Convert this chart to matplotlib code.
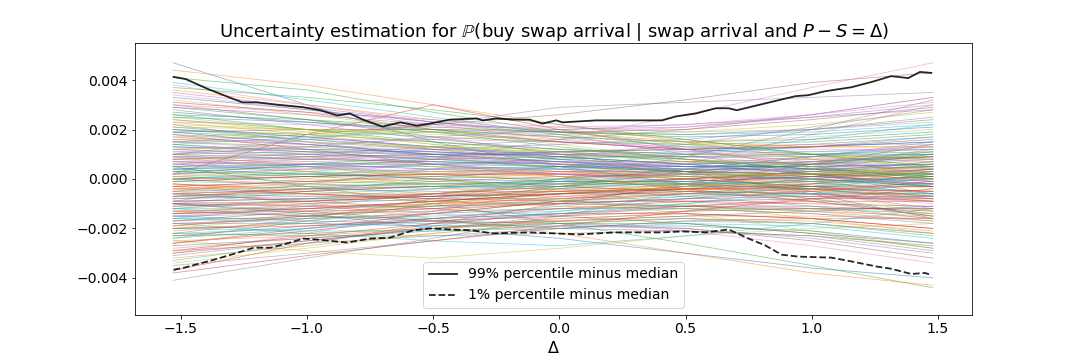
import numpy as np
import matplotlib
matplotlib.use("Agg")
import matplotlib.pyplot as plt

knots = [-1.53, -1.0, -0.5, 0.0, 0.5, 1.0, 1.48]
samples = [
    [4.7, 3.0, 1.5, 0.5, -0.2, -0.8, -1.5],
    [4.4, 3.8, 3.0, 2.2, 1.5, 0.8, 0.2],
    [4.1, 3.6, 2.7, 1.9, 1.4, 1.0, 0.8],
    [0.2, 1.8, 3.0, 2.0, 1.2, 0.5, 0.0],
    [1.0, 1.6, 2.2, 2.9, 3.1, 3.3, 3.5],
    [1.5, 1.8, 2.2, 2.6, 3.2, 3.9, 4.3],
    [-0.5, 0.0, 0.8, 1.6, 2.6, 3.7, 4.7],
    [-4.1, -3.2, -2.4, -1.5, -0.5, 0.5, 1.2],
    [-2.5, -2.9, -3.2, -2.8, -2.3, -2.0, -1.8],
    [-1.8, -2.2, -2.5, -2.7, -2.3, -1.8, -1.2],
    [-1.0, -1.4, -2.0, -2.4, -3.0, -3.6, -4.0],
    [-0.5, -1.0, -1.6, -2.2, -3.0, -3.8, -4.3],
    [0.5, -0.3, -1.0, -1.8, -2.6, -3.5, -4.4],
    [-3.7, -2.6, -1.8, -1.0, -0.2, 0.6, 1.4],
    [3.5, 2.9, 2.3, 1.8, 1.0, 0.2, -0.6],
    [3.0, 2.4, 1.7, 1.0, 0.3, -0.6, -1.6],
    [-3.0, -2.2, -1.3, -0.4, 0.6, 1.8, 3.0],
    [-2.2, -1.6, -0.8, 0.0, 0.9, 2.0, 3.2],
    [2.5, 2.0, 1.4, 0.9, 0.3, -0.5, -1.3],
    [2.0, 1.6, 1.3, 1.0, 0.8, 0.6, 0.5],
    [1.2, 1.0, 0.8, 0.6, 0.5, 0.6, 0.8],
    [-1.2, -0.9, -0.6, -0.3, 0.0, 0.2, 0.4],
    [0.3, 0.2, 0.1, 0.0, -0.2, -0.4, -0.7],
    [1.8, 1.2, 0.6, 0.1, -0.4, -0.9, -1.5],
    [-1.6, -1.1, -0.6, -0.1, 0.4, 0.9, 1.5],
    [0.8, 0.9, 1.0, 1.1, 1.2, 1.4, 1.7],
    [-0.8, -0.7, -0.6, -0.7, -0.9, -1.2, -1.6],
    [2.2, 1.5, 0.9, 0.4, 0.0, -0.3, -0.5],
    [-2.0, -1.5, -1.0, -0.6, -0.3, -0.1, 0.1],
    [0.0, 0.3, 0.6, 0.8, 1.0, 1.3, 1.7],
    [0.6, 0.3, 0.0, -0.3, -0.5, -0.6, -0.6],
    [-0.3, -0.1, 0.2, 0.5, 0.7, 0.8, 0.8],
    [1.5, 1.3, 1.0, 0.7, 0.3, 0.0, -0.3],
    [-1.4, -1.3, -1.2, -1.0, -0.8, -0.7, -0.7],
    [2.8, 2.2, 1.6, 1.2, 0.9, 0.8, 0.9],
    [-2.6, -2.0, -1.4, -0.9, -0.6, -0.4, -0.3],
    [0.9, 0.6, 0.4, 0.3, 0.4, 0.7, 1.1],
    [-0.6, -0.4, -0.3, -0.3, -0.5, -0.9, -1.4],
    [1.0, 0.5, 0.0, -0.5, -1.0, -1.6, -2.2],
    [-1.0, -0.5, 0.0, 0.5, 1.0, 1.6, 2.2],
    [0.4, 0.6, 0.7, 0.6, 0.3, -0.1, -0.6],
    [-0.2, -0.5, -0.7, -0.6, -0.3, 0.1, 0.6],
    [2.4, 2.0, 1.7, 1.5, 1.4, 1.5, 1.8],
    [-2.3, -1.9, -1.6, -1.4, -1.4, -1.6, -2.0],
    [1.6, 1.4, 1.1, 0.8, 0.5, 0.3, 0.2],
    [-1.7, -1.3, -0.9, -0.6, -0.4, -0.4, -0.5],
    [0.1, 0.4, 0.8, 1.1, 1.3, 1.4, 1.4],
    [0.0, -0.3, -0.6, -0.9, -1.1, -1.2, -1.2],
    [3.2, 2.6, 2.0, 1.4, 0.8, 0.2, -0.4],
    [-3.3, -2.6, -1.9, -1.3, -0.8, -0.3, 0.2],
    [1.3, 1.1, 1.0, 1.0, 1.1, 1.3, 1.5],
    [-1.3, -1.1, -1.0, -1.0, -1.1, -1.3, -1.5],
    [0.7, 0.5, 0.2, -0.1, -0.3, -0.3, -0.2],
    [-0.7, -0.4, -0.1, 0.1, 0.2, 0.1, -0.1],
    [2.0, 1.7, 1.3, 0.8, 0.2, -0.5, -1.2],
    [-2.0, -1.8, -1.4, -0.9, -0.3, 0.4, 1.0],
    [1.1, 1.2, 1.2, 1.1, 0.9, 0.6, 0.3],
    [-1.1, -1.0, -0.8, -0.5, -0.2, 0.2, 0.7],
    [0.2, 0.0, -0.2, -0.3, -0.3, -0.2, 0.0],
    [-0.1, 0.1, 0.3, 0.4, 0.4, 0.3, 0.1],
    [2.7, 2.3, 1.9, 1.5, 1.2, 1.0, 1.0],
    [-2.8, -2.4, -2.0, -1.7, -1.5, -1.5, -1.6],
    [1.9, 1.6, 1.2, 0.8, 0.6, 0.7, 1.0],
    [-1.9, -1.5, -1.1, -0.7, -0.5, -0.6, -0.9],
    [0.5, 0.8, 1.0, 1.0, 0.8, 0.4, -0.1],
    [-0.4, -0.6, -0.8, -0.8, -0.6, -0.2, 0.3],
    [3.8, 3.0, 2.3, 1.7, 1.2, 0.9, 0.7],
    [-0.9, -0.2, 0.4, 0.9, 1.4, 2.1, 2.8],
    [0.9, 0.3, -0.3, -0.8, -1.4, -2.1, -2.8],
    [1.4, 1.7, 1.9, 1.9, 1.8, 1.9, 2.2],
    [-1.5, -1.7, -1.8, -1.7, -1.5, -1.3, -1.1],
    [2.3, 1.8, 1.2, 0.6, 0.1, -0.2, -0.3],
    [-2.4, -1.7, -1.0, -0.3, 0.3, 0.7, 0.9],
    [0.0, 0.1, 0.2, 0.2, 0.1, 0.0, -0.2],
    [0.6, 0.9, 1.2, 1.4, 1.6, 2.0, 2.5],
    [-0.6, -0.9, -1.2, -1.5, -1.8, -2.2, -2.6],
    [3.0, 2.7, 2.4, 2.1, 1.9, 2.0, 2.3],
    [-3.5, -3.0, -2.5, -2.0, -1.7, -1.8, -2.3],
    [1.7, 1.9, 2.0, 2.0, 1.6, 1.0, 0.4],
    [-1.2, -1.5, -1.6, -1.4, -1.0, -0.4, 0.2],
    [0.4, 0.5, 0.5, 0.4, 0.2, 0.0, -0.3],
    [-0.4, -0.3, -0.2, -0.1, 0.0, 0.2, 0.5],
    [1.0, 0.8, 0.7, 0.5, 0.3, 0.2, 0.2],
    [-1.0, -0.9, -0.7, -0.5, -0.4, -0.4, -0.5],
    [0.2, 0.4, 0.6, 0.7, 0.7, 0.6, 0.4],
    [-0.2, -0.4, -0.5, -0.5, -0.4, -0.2, 0.1],
    [1.4, 1.0, 0.6, 0.2, -0.2, -0.6, -1.0],
    [-1.4, -1.0, -0.6, -0.2, 0.2, 0.6, 1.1],
    [0.8, 0.7, 0.5, 0.3, 0.0, -0.4, -0.9],
    [-0.8, -0.6, -0.4, -0.1, 0.2, 0.6, 1.0],
    [2.1, 1.7, 1.3, 0.9, 0.6, 0.4, 0.3],
    [-2.1, -1.7, -1.3, -0.9, -0.6, -0.5, -0.6],
    [0.3, 0.5, 0.8, 0.9, 0.9, 0.9, 1.0],
    [-0.3, -0.6, -0.8, -0.9, -0.9, -1.0, -1.1],
    [1.7, 1.4, 1.0, 0.6, 0.3, 0.1, -0.1],
    [-1.7, -1.5, -1.2, -0.8, -0.4, 0.0, 0.3],
    [0.6, 0.7, 0.8, 0.7, 0.5, 0.3, 0.2],
    [-0.6, -0.7, -0.7, -0.6, -0.3, 0.0, 0.4],
    [1.2, 1.3, 1.3, 1.2, 1.0, 0.9, 0.9],
    [-1.2, -1.2, -1.1, -0.9, -0.7, -0.6, -0.6],
    [0.0, 0.2, 0.4, 0.5, 0.5, 0.5, 0.6],
    [0.0, -0.2, -0.4, -0.4, -0.4, -0.5, -0.7],
    [2.6, 2.0, 1.5, 1.1, 0.7, 0.4, 0.2],
    [-2.6, -2.1, -1.6, -1.2, -0.9, -0.8, -0.8],
    [0.9, 1.0, 0.9, 0.7, 0.4, 0.1, -0.2],
    [-0.9, -0.8, -0.6, -0.3, 0.0, 0.3, 0.5],
    [1.5, 1.2, 0.9, 0.6, 0.4, 0.4, 0.6],
    [-1.5, -1.2, -0.9, -0.6, -0.5, -0.6, -0.8],
    [0.5, 0.3, 0.2, 0.1, 0.1, 0.2, 0.5],
    [-0.5, -0.3, -0.2, -0.1, -0.1, -0.3, -0.6],
    [1.9, 1.4, 1.0, 0.7, 0.5, 0.5, 0.6],
    [-1.9, -1.4, -1.0, -0.6, -0.2, 0.1, 0.4],
    [0.1, -0.1, -0.2, -0.2, 0.0, 0.3, 0.7],
    [-0.1, 0.1, 0.2, 0.2, 0.0, -0.3, -0.7],
    [1.1, 0.9, 0.6, 0.3, 0.1, -0.1, -0.2],
    [-1.1, -0.9, -0.7, -0.4, -0.1, 0.1, 0.2],
    [0.7, 0.8, 0.9, 1.0, 1.0, 1.1, 1.3],
    [-0.7, -0.8, -0.9, -1.0, -1.1, -1.3, -1.7],
    [2.4, 1.9, 1.4, 1.0, 0.7, 0.6, 0.7],
    [-2.4, -2.0, -1.6, -1.1, -0.7, -0.3, 0.0],
    [1.3, 1.2, 1.1, 0.9, 0.6, 0.2, -0.3],
    [-1.3, -1.2, -1.0, -0.8, -0.5, -0.1, 0.4],
    [0.3, 0.1, -0.1, -0.2, -0.2, -0.1, 0.1],
    [-0.3, -0.1, 0.1, 0.3, 0.3, 0.2, 0.0],
    [1.8, 1.5, 1.2, 1.0, 0.9, 1.0, 1.2],
    [-1.8, -1.6, -1.4, -1.2, -1.1, -1.1, -1.3],
    [0.8, 0.5, 0.3, 0.2, 0.2, 0.4, 0.8],
    [-0.8, -0.5, -0.3, -0.2, -0.2, -0.4, -0.8],
    [1.6, 1.5, 1.3, 1.1, 0.8, 0.5, 0.2],
    [-1.6, -1.6, -1.5, -1.3, -1.0, -0.6, -0.2],
    [0.2, 0.6, 0.9, 1.1, 1.2, 1.3, 1.5],
    [-0.2, -0.6, -0.9, -1.1, -1.2, -1.4, -1.7],
    [2.9, 2.4, 1.9, 1.3, 0.8, 0.4, 0.1],
    [-2.9, -2.3, -1.8, -1.4, -1.1, -0.9, -0.9],
    [1.0, 1.1, 1.1, 0.9, 0.6, 0.2, -0.2],
    [-1.0, -1.1, -1.1, -1.0, -0.8, -0.5, -0.1],
    [0.6, 0.4, 0.3, 0.4, 0.6, 0.9, 1.3],
    [-0.6, -0.4, -0.3, -0.4, -0.7, -1.1, -1.6],
    [2.2, 2.0, 1.8, 1.6, 1.4, 1.3, 1.3],
    [-2.2, -2.0, -1.7, -1.4, -1.2, -1.2, -1.4],
    [0.4, 0.2, 0.0, -0.1, -0.1, 0.1, 0.4],
    [-0.4, -0.2, 0.0, 0.2, 0.3, 0.2, 0.0],
    [1.4, 1.1, 0.8, 0.5, 0.3, 0.2, 0.1],
    [-1.4, -1.2, -0.9, -0.6, -0.4, -0.3, -0.3],
    [0.9, 0.8, 0.7, 0.6, 0.6, 0.7, 0.9],
    [-0.9, -0.8, -0.7, -0.6, -0.6, -0.7, -0.9],
    [3.4, 2.8, 2.2, 1.6, 1.1, 0.7, 0.5],
    [-3.1, -2.5, -2.0, -1.5, -1.1, -0.8, -0.7],
    [1.2, 0.9, 0.5, 0.1, -0.3, -0.8, -1.3],
    [-1.2, -0.8, -0.4, 0.0, 0.4, 0.9, 1.4],
    [0.5, 0.6, 0.6, 0.5, 0.4, 0.4, 0.5],
    [-0.5, -0.6, -0.6, -0.5, -0.4, -0.4, -0.5],
    [2.0, 1.8, 1.5, 1.2, 1.0, 1.0, 1.1],
    [-2.0, -1.9, -1.7, -1.5, -1.3, -1.2, -1.2],
    [0.7, 0.6, 0.4, 0.2, -0.1, -0.4, -0.8],
    [-0.7, -0.5, -0.3, 0.0, 0.3, 0.6, 0.9],
    [1.5, 1.6, 1.6, 1.5, 1.3, 1.2, 1.2],
    [-1.5, -1.4, -1.3, -1.2, -1.2, -1.4, -1.8],
    [0.1, 0.2, 0.3, 0.3, 0.2, 0.2, 0.3],
    [-0.1, -0.2, -0.3, -0.3, -0.2, -0.1, 0.0],
    [3.3, 2.8, 2.3, 1.9, 1.7, 1.8, 2.1],
    [3.6, 3.0, 2.4, 1.9, 1.5, 1.3, 1.3],
    [2.6, 2.4, 2.1, 1.9, 1.8, 2.0, 2.4],
    [3.1, 2.7, 2.0, 1.5, 1.2, 1.3, 1.6],
    [2.9, 2.6, 2.2, 2.0, 2.1, 2.5, 3.0],
    [1.9, 2.0, 2.0, 1.9, 2.0, 2.4, 2.9],
    [1.2, 1.4, 1.6, 1.8, 2.1, 2.6, 3.1],
    [0.8, 1.0, 1.3, 1.6, 2.0, 2.6, 3.3],
    [2.1, 2.0, 1.9, 1.8, 1.9, 2.2, 2.7],
    [3.9, 3.2, 2.5, 1.8, 1.3, 1.1, 1.2],
    [-2.7, -2.4, -2.1, -1.9, -1.9, -2.1, -2.6],
    [-3.2, -2.7, -2.2, -1.8, -1.6, -1.8, -2.2],
    [-2.3, -2.2, -2.0, -1.8, -1.8, -2.2, -2.8],
    [-3.0, -2.5, -2.0, -1.6, -1.4, -1.6, -2.0],
    [-1.8, -1.8, -1.9, -1.9, -2.0, -2.4, -3.0],
    [-1.3, -1.5, -1.7, -1.8, -2.0, -2.5, -3.2],
    [-0.9, -1.1, -1.4, -1.7, -2.1, -2.7, -3.4],
    [-2.9, -2.6, -2.3, -2.0, -1.7, -1.6, -1.6],
    [-3.4, -2.8, -2.2, -1.7, -1.3, -1.2, -1.4],
    [-2.0, -2.1, -2.1, -2.0, -1.8, -1.9, -2.4],
    [2.5, 2.3, 2.0, 1.7, 1.5, 1.6, 1.9],
    [-2.5, -2.3, -2.0, -1.7, -1.6, -1.7, -2.1],
    [3.7, 3.3, 2.8, 2.2, 1.6, 1.0, 0.5],
    [-3.8, -3.1, -2.5, -1.9, -1.3, -0.8, -0.4],
    [1.0, 1.3, 1.7, 2.0, 2.2, 2.5, 2.8],
    [-1.0, -1.3, -1.7, -2.0, -2.1, -2.3, -2.7],
    [2.3, 2.2, 2.1, 2.1, 2.2, 2.6, 3.3],
    [-2.2, -2.3, -2.3, -2.2, -2.1, -2.3, -2.9],
    [1.6, 1.8, 1.9, 1.7, 1.5, 1.7, 2.0],
    [-1.6, -1.8, -1.9, -1.8, -1.6, -1.8, -2.2],
]

# 99% percentile minus median
upper_x = [-1.528, -1.48, -1.39, -1.31, -1.255, -1.20, -1.117, -1.014, -0.947, -0.88,
           -0.83, -0.778, -0.70, -0.63, -0.564, -0.513, -0.434, -0.327, -0.304, -0.249,
           -0.185, -0.118, -0.067, -0.012, 0.012, 0.146, 0.277, 0.407, 0.462, 0.541,
           0.62, 0.671, 0.703, 0.817, 0.936, 0.987, 1.054, 1.157, 1.236, 1.315,
           1.382, 1.429, 1.473]
upper_y = [4.13, 4.04, 3.63, 3.31, 3.10, 3.10, 3.00, 2.90, 2.78, 2.57,
           2.65, 2.40, 2.12, 2.29, 2.16, 2.24, 2.40, 2.45, 2.37, 2.45,
           2.40, 2.40, 2.24, 2.37, 2.29, 2.37, 2.37, 2.37, 2.53, 2.65,
           2.86, 2.86, 2.78, 3.06, 3.35, 3.39, 3.55, 3.71, 3.92, 4.16,
           4.08, 4.33, 4.29]

# 1% percentile minus median
lower_x = [-1.528, -1.488, -1.37, -1.30, -1.21, -1.145, -1.093, -1.014, -0.959, -0.84,
           -0.75, -0.671, -0.58, -0.513, -0.434, -0.343, -0.264, -0.118, 0.079, 0.225,
           0.407, 0.486, 0.58, 0.671, 0.75, 0.817, 0.88, 0.948, 1.078, 1.145,
           1.263, 1.315, 1.394, 1.449, 1.473]
lower_y = [-3.67, -3.59, -3.27, -3.06, -2.78, -2.78, -2.65, -2.41, -2.45, -2.57,
           -2.41, -2.37, -2.08, -2.00, -2.04, -2.08, -2.20, -2.16, -2.24, -2.16,
           -2.16, -2.12, -2.16, -2.04, -2.41, -2.69, -3.06, -3.14, -3.18, -3.31,
           -3.55, -3.63, -3.84, -3.80, -3.88]

scale = 1e-3

fig = plt.figure(figsize=(15, 5), dpi=72)
ax = fig.add_axes([0.125, 0.125, 0.775, 0.7556])

# thin sample curves, default colour cycle
for s in samples:
    ax.plot(knots, np.array(s) * scale, lw=0.8, alpha=0.5)

ax.plot(upper_x, np.array(upper_y) * scale, color='k', lw=1.8, alpha=0.85,
        label='99% percentile minus median')
ax.plot(lower_x, np.array(lower_y) * scale, color='k', lw=1.8, alpha=0.85, ls='--',
        label='1% percentile minus median')

ax.set_xlim(-1.681, 1.635)
ax.set_ylim(-0.0055, 0.0055)
ax.set_xticks([-1.5, -1.0, -0.5, 0.0, 0.5, 1.0, 1.5])
ax.set_yticks([-0.004, -0.002, 0.0, 0.002, 0.004])
ax.tick_params(labelsize=14)
ax.set_xlabel(r'$\Delta$', fontsize=16)
ax.set_title(r'Uncertainty estimation for $\mathbb{P}$(buy swap arrival | swap arrival and $P - S = \Delta$)',
             fontsize=18)
ax.legend(loc='lower center', fontsize=14)

plt.savefig('out.png', dpi=72)
